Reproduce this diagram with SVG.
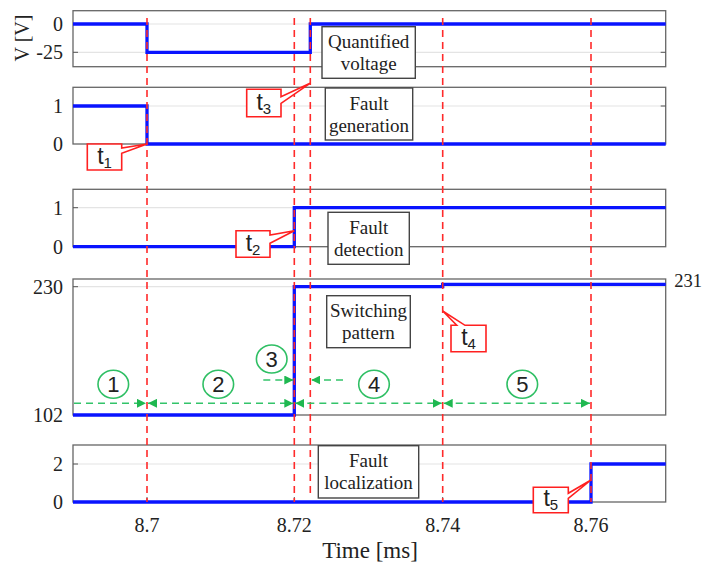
<svg xmlns="http://www.w3.org/2000/svg" width="704" height="563" viewBox="0 0 704 563">
<defs>
<style>
.ax{fill:none;stroke:#666;stroke-width:1.3}
.grid{stroke:#e4e4e4;stroke-width:1.2}
.tick{stroke:#555;stroke-width:1}
.sig{fill:none;stroke:#0a14ff;stroke-width:3.3;stroke-linejoin:miter}
.red{stroke:#ff2a2a;stroke-width:1.6;stroke-dasharray:7 5;fill:none}
.lbl{font-family:"Liberation Serif","Times New Roman",serif;font-size:20px;fill:#222}
.box{fill:#fff;stroke:#444;stroke-width:1.4}
.boxt{font-family:"Liberation Serif","Times New Roman",serif;font-size:19px;fill:#222;text-anchor:middle}
.call{fill:#fff;stroke:#ff2020;stroke-width:1.6;stroke-linejoin:miter}
.ct{font-family:"Liberation Sans",sans-serif;font-size:23px;fill:#222;text-anchor:middle}
.grn{stroke:#33c46a;stroke-width:1.6;stroke-dasharray:7 5;fill:none}
.circ{fill:#fff;stroke:#2fbf64;stroke-width:1.6}
.num{font-family:"Liberation Sans",sans-serif;font-size:22px;fill:#222;text-anchor:middle}
</style>
<marker id="ah" viewBox="0 0 10 10" refX="10" refY="5" markerWidth="9" markerHeight="9" markerUnits="userSpaceOnUse" orient="auto-start-reverse">
<path d="M0,0 L10,5 L0,10 z" fill="#1fb850"/>
</marker>
</defs>

<g id="panel1">
<line class="grid" x1="73" y1="24" x2="666" y2="24"/>
<line class="grid" x1="73" y1="52.3" x2="666" y2="52.3"/>
<rect class="ax" x="73" y="10.7" width="592.7" height="56"/>
<path class="tick" d="M73,24h5M73,52.3h5M665.7,24h-5M665.7,52.3h-5"/>
<text class="lbl" x="63" y="31" text-anchor="end">0</text>
<text class="lbl" x="63" y="59.3" text-anchor="end">-25</text>
<text class="lbl" transform="translate(29,38) rotate(-90)" text-anchor="middle">V [V]</text>
</g>
<g id="panel2">
<line class="grid" x1="73" y1="106" x2="666" y2="106"/>
<rect class="ax" x="73" y="87.3" width="592.7" height="56.7"/>
<path class="tick" d="M73,106h5M665.7,106h-5"/>
<text class="lbl" x="63" y="113" text-anchor="end">1</text>
<text class="lbl" x="63" y="151" text-anchor="end">0</text>
</g>
<g id="panel3">
<line class="grid" x1="73" y1="207.7" x2="666" y2="207.7"/>
<rect class="ax" x="73" y="189.3" width="592.7" height="57.4"/>
<path class="tick" d="M73,207.7h5M665.7,207.7h-5"/>
<text class="lbl" x="63" y="214.7" text-anchor="end">1</text>
<text class="lbl" x="63" y="253.7" text-anchor="end">0</text>
</g>
<g id="panel4">
<line class="grid" x1="73" y1="286.7" x2="666" y2="286.7"/>
<rect class="ax" x="73" y="279" width="592.7" height="136"/>
<path class="tick" d="M73,286.7h5M665.7,284.3h-5"/>
<text class="lbl" x="63" y="293.7" text-anchor="end">230</text>
<text class="lbl" x="63" y="422" text-anchor="end">102</text>
<text class="lbl" x="702" y="287" text-anchor="end" style="font-size:18.5px">231</text>
</g>
<g id="panel5">
<line class="grid" x1="73" y1="464" x2="666" y2="464"/>
<rect class="ax" x="73" y="445" width="592.7" height="57"/>
<path class="tick" d="M73,464h5M665.7,464h-5M147,502v-5M294.3,502v-5M442.7,502v-5M591,502v-5"/>
<text class="lbl" x="63" y="471" text-anchor="end">2</text>
<text class="lbl" x="63" y="509" text-anchor="end">0</text>
<text class="lbl" x="147" y="532" text-anchor="middle">8.7</text>
<text class="lbl" x="294.3" y="532" text-anchor="middle">8.72</text>
<text class="lbl" x="442.7" y="532" text-anchor="middle">8.74</text>
<text class="lbl" x="591" y="532" text-anchor="middle">8.76</text>
<text class="lbl" x="370" y="558" text-anchor="middle" style="font-size:23px">Time [ms]</text>
</g>

<g id="signals">
<path class="sig" d="M73,24H147V52.3H310.3V24H665.7"/>
<path class="sig" d="M73,106H147V144H665.7"/>
<path class="sig" d="M73,246.7H294.3V207.7H665.7"/>
<path class="sig" d="M73,415H294.3V286.7H442.7V284.3H665.7"/>
<path class="sig" d="M73,502H591V464H665.7"/>
</g>

<g id="connectors">
<line class="red" x1="147" y1="18" x2="147" y2="502"/>
<line class="red" x1="294.3" y1="18" x2="294.3" y2="502"/>
<line class="red" x1="310.3" y1="18" x2="310.3" y2="494"/>
<line class="red" x1="442.7" y1="18" x2="442.7" y2="502"/>
<line class="red" x1="591" y1="18" x2="591" y2="502"/>
<line class="grn" x1="74" y1="403.3" x2="146" y2="403.3" marker-end="url(#ah)"/>
<line class="grn" x1="148" y1="403.3" x2="293.3" y2="403.3" marker-start="url(#ah)" marker-end="url(#ah)"/>
<line class="grn" x1="295.3" y1="403.3" x2="441.7" y2="403.3" marker-start="url(#ah)" marker-end="url(#ah)"/>
<line class="grn" x1="443.7" y1="403.3" x2="590" y2="403.3" marker-start="url(#ah)" marker-end="url(#ah)"/>
<line class="grn" x1="263.3" y1="380" x2="293.3" y2="380" marker-end="url(#ah)"/>
<line class="grn" x1="343" y1="380" x2="311.3" y2="380" marker-end="url(#ah)"/>
</g>

<g id="lbl-quantified">
<rect class="box" x="322" y="26.7" width="93.3" height="51.6"/>
<text class="boxt" x="368.7" y="48">Quantified</text>
<text class="boxt" x="368.7" y="70">voltage</text>
</g>
<g id="lbl-generation">
<rect class="box" x="325.3" y="88" width="87.4" height="52"/>
<text class="boxt" x="369" y="110">Fault</text>
<text class="boxt" x="369" y="132">generation</text>
</g>
<g id="lbl-detection">
<rect class="box" x="328" y="212.3" width="81.3" height="52"/>
<text class="boxt" x="368.7" y="234">Fault</text>
<text class="boxt" x="368.7" y="256">detection</text>
</g>
<g id="lbl-switching">
<rect class="box" x="326.7" y="295.7" width="83.6" height="52"/>
<text class="boxt" x="368.5" y="317">Switching</text>
<text class="boxt" x="368.5" y="339">pattern</text>
</g>
<g id="lbl-localization">
<rect class="box" x="318.3" y="445.7" width="100.4" height="52.3"/>
<text class="boxt" x="368.5" y="467">Fault</text>
<text class="boxt" x="368.5" y="489">localization</text>
</g>

<g id="t1">
<path class="call" d="M87.3,144H121.7V148L147,144L121.7,153.3V170H87.3Z"/>
<text class="ct" x="104.5" y="164">t<tspan style="font-size:15px" dy="4">1</tspan></text>
</g>
<g id="t3">
<path class="call" d="M246.7,89.3H281V96.7L310,83.3L281,103.3V116.7H246.7Z"/>
<text class="ct" x="263.8" y="110">t<tspan style="font-size:15px" dy="4">3</tspan></text>
</g>
<g id="t2">
<path class="call" d="M236,230.7H270V235L294.3,230.7L270,243.3V257.3H236Z"/>
<text class="ct" x="253" y="251">t<tspan style="font-size:15px" dy="4">2</tspan></text>
</g>
<g id="t4">
<path class="call" d="M451,325.3H456.7L442.7,311L465,325.3H486V351.7H451Z"/>
<text class="ct" x="468.5" y="345">t<tspan style="font-size:15px" dy="4">4</tspan></text>
</g>
<g id="t5">
<path class="call" d="M533.3,487.3H568.3V493.3L591,480L568.3,498.3V512.7H533.3Z"/>
<text class="ct" x="550.8" y="506">t<tspan style="font-size:15px" dy="4">5</tspan></text>
</g>

<g id="n1"><ellipse class="circ" cx="113.3" cy="384.3" rx="15.3" ry="14"/><text class="num" x="113.3" y="392">1</text></g>
<g id="n2"><ellipse class="circ" cx="218.3" cy="384.3" rx="15.3" ry="14"/><text class="num" x="218.3" y="392">2</text></g>
<g id="n3"><ellipse class="circ" cx="271.7" cy="359" rx="15.3" ry="14"/><text class="num" x="271.7" y="366.7">3</text></g>
<g id="n4"><ellipse class="circ" cx="374" cy="384.3" rx="15.3" ry="14"/><text class="num" x="374" y="392">4</text></g>
<g id="n5"><ellipse class="circ" cx="522.3" cy="384.3" rx="15.3" ry="14"/><text class="num" x="522.3" y="392">5</text></g>
</svg>
